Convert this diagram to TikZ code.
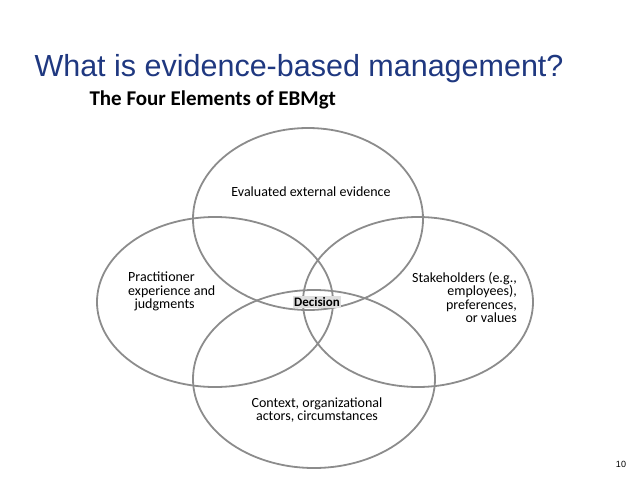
\documentclass[tikz,border=0pt]{standalone}
\usepackage{fontspec}
\setmainfont{Liberation Sans}
\newfontfamily\diagfont{Carlito}
\definecolor{titleblue}{RGB}{31,56,128}
\definecolor{ringgray}{RGB}{140,140,140}
\tikzset{%
  ring/.style={draw=ringgray, line width=1.8pt},
  elem/.style={font=\diagfont\fontsize{14}{13.5}\selectfont, inner sep=0pt}
}
\begin{document}
\begin{tikzpicture}[x=1pt,y=-1pt]
\useasboundingbox (0,0) rectangle (638,479);
\node[anchor=base west, text=titleblue, font=\fontsize{30.5}{32}\selectfont] (title) at (31,76) {What is evidence-based management?};
\node[anchor=base west, font=\diagfont\bfseries\fontsize{21}{22}\selectfont] (sub) at (86,105) {The Four Elements of EBMgt};
% the four rings
\draw[ring] (308,219) ellipse [x radius=115, y radius=91];
\draw[ring] (215,302) ellipse [x radius=118, y radius=85];
\draw[ring] (418,302) ellipse [x radius=115, y radius=85];
\draw[ring] (314,379) ellipse [x radius=121, y radius=89];
\node[elem] (evid) at (311,192) {Evaluated external evidence};
\node[elem, anchor=north west, align=left] (prac) at (128,272) {Practitioner\\experience and\\\ \ judgments};
\node[elem, anchor=north east, align=right] (stake) at (517,272) {Stakeholders (e.g.,\\employees),\\preferences,\\or values};
\node[elem, align=center] (ctx) at (317,410) {Context, organizational\\actors, circumstances};
\node[elem, fill=gray!25, inner sep=1.5pt, font=\diagfont\bfseries\fontsize{13}{13}\selectfont] (dec) at (317,302) {Decision};
\node[font=\fontsize{9}{10}\selectfont] (page) at (621,464) {10};
\end{tikzpicture}
\end{document}
